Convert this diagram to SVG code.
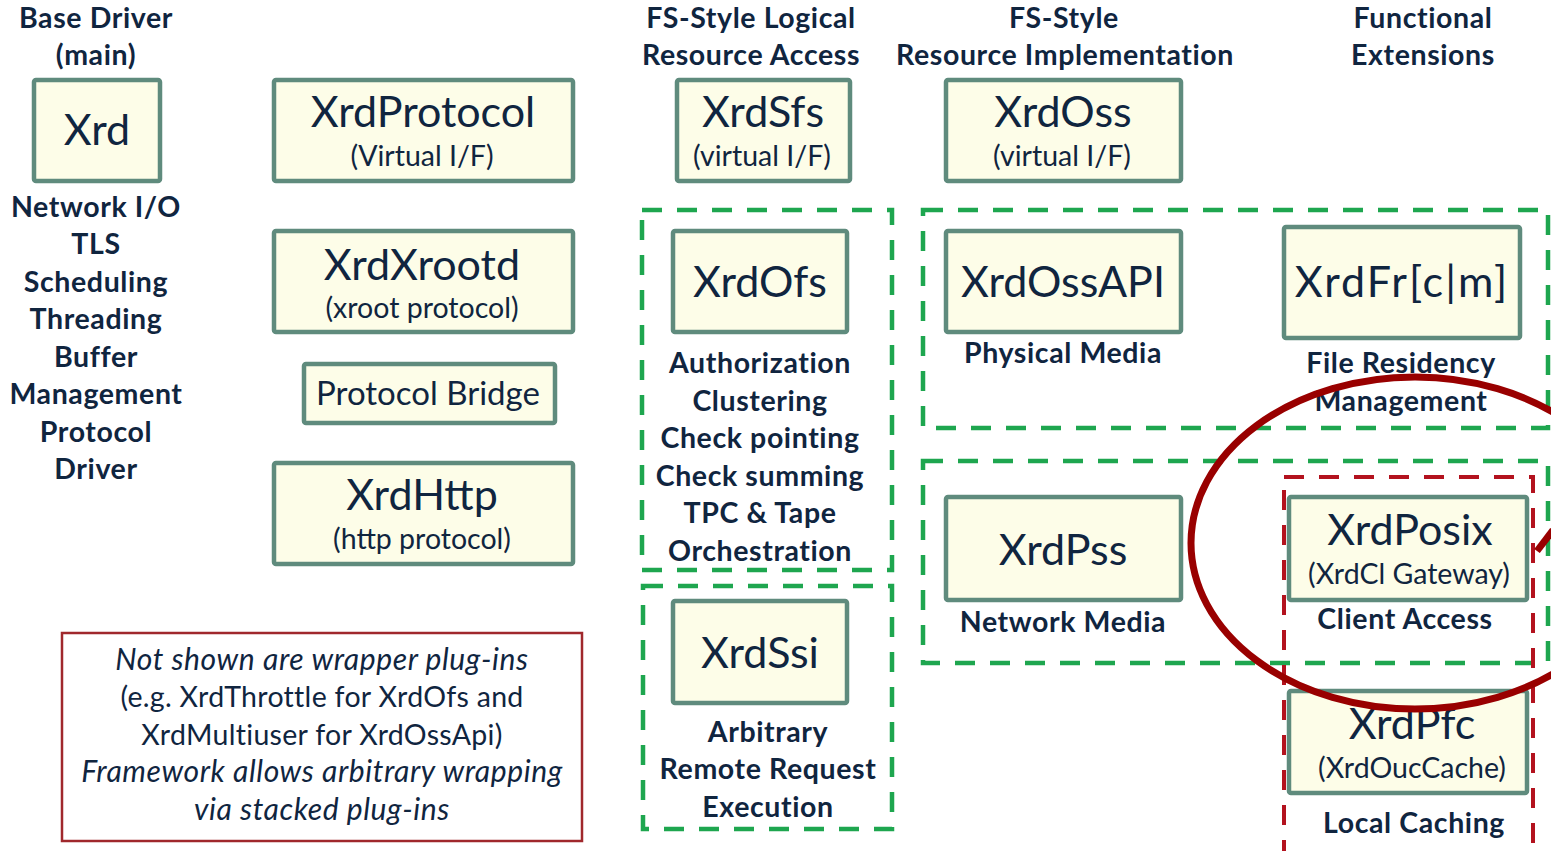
<svg xmlns="http://www.w3.org/2000/svg" width="1551" height="851" viewBox="0 0 1551 851">
<style>
.box{fill:#fdfde8;stroke:#5f8b7d;stroke-width:4.5}
.grp{fill:none;stroke:#1ea64f;stroke-width:4.5;stroke-dasharray:20 15}
.rgrp{fill:none;stroke:#b3121e;stroke-width:4;stroke-dasharray:20 15}
text{font-family:Lato,"Liberation Sans",sans-serif;fill:#10253f;text-anchor:middle}
.ti{font-size:43px}
.sub{font-size:28.5px}
.lbl{font-size:28.5px;font-weight:bold;letter-spacing:0.6px}
.note{font-size:28.5px;letter-spacing:0.3px}
.it{font-style:italic;font-size:30px;letter-spacing:0.6px}
</style>
<rect width="1551" height="851" fill="#ffffff"/>

<g id="headers">
<text class="lbl" x="96" y="28">Base Driver</text>
<text class="lbl" x="96" y="65">(main)</text>
<text class="lbl" x="751" y="28">FS-Style Logical</text>
<text class="lbl" x="751" y="65">Resource Access</text>
<text class="lbl" x="1064" y="28">FS-Style</text>
<text class="lbl" x="1065" y="65">Resource Implementation</text>
<text class="lbl" x="1423" y="28">Functional</text>
<text class="lbl" x="1423" y="65">Extensions</text>
</g>

<g id="groups">
<rect class="grp" x="642" y="210" width="250" height="360"/>
<rect class="grp" x="643" y="586" width="249" height="243"/>
<rect class="grp" x="923" y="210" width="625" height="218"/>
<rect class="grp" x="923" y="461" width="625" height="202"/>
<rect class="rgrp" x="1284" y="477" width="249" height="380"/>
</g>

<g id="node-xrd">
<rect class="box" x="34" y="80" width="126" height="101" rx="2"/>
<text class="ti" x="97" y="145">Xrd</text>
<text class="lbl" x="96" y="217">Network I/O</text>
<text class="lbl" x="96" y="254">TLS</text>
<text class="lbl" x="96" y="292">Scheduling</text>
<text class="lbl" x="96" y="329">Threading</text>
<text class="lbl" x="96" y="367">Buffer</text>
<text class="lbl" x="96" y="404">Management</text>
<text class="lbl" x="96" y="442">Protocol</text>
<text class="lbl" x="96" y="479">Driver</text>
</g>

<g id="node-xrdprotocol">
<rect class="box" x="274" y="80" width="299" height="101" rx="2"/>
<text class="ti" x="423" y="127">XrdProtocol</text>
<text class="sub" x="422" y="166">(Virtual I/F)</text>
</g>

<g id="node-xrdxrootd">
<rect class="box" x="274" y="231" width="299" height="101" rx="2"/>
<text class="ti" x="422" y="280">XrdXrootd</text>
<text class="sub" x="422" y="318">(xroot protocol)</text>
</g>

<g id="node-bridge">
<rect class="box" x="304" y="364" width="251" height="59" rx="2"/>
<text class="ti" x="428" y="405" style="font-size:33px">Protocol Bridge</text>
</g>

<g id="node-xrdhttp">
<rect class="box" x="274" y="463" width="299" height="101" rx="2"/>
<text class="ti" x="422" y="510">XrdHttp</text>
<text class="sub" x="422" y="549">(http protocol)</text>
</g>

<g id="node-xrdsfs">
<rect class="box" x="677" y="80" width="173" height="101" rx="2"/>
<text class="ti" x="763" y="127">XrdSfs</text>
<text class="sub" x="762" y="166">(virtual I/F)</text>
</g>

<g id="node-xrdoss">
<rect class="box" x="946" y="80" width="235" height="101" rx="2"/>
<text class="ti" x="1063" y="127">XrdOss</text>
<text class="sub" x="1062" y="166">(virtual I/F)</text>
</g>

<g id="node-xrdofs">
<rect class="box" x="673" y="231" width="174" height="101" rx="2"/>
<text class="ti" x="760" y="297">XrdOfs</text>
<text class="lbl" x="760" y="373">Authorization</text>
<text class="lbl" x="760" y="411">Clustering</text>
<text class="lbl" x="760" y="448">Check pointing</text>
<text class="lbl" x="760" y="486">Check summing</text>
<text class="lbl" x="760" y="523">TPC &amp; Tape</text>
<text class="lbl" x="760" y="561">Orchestration</text>
</g>

<g id="node-xrdssi">
<rect class="box" x="673" y="601" width="174" height="102" rx="2"/>
<text class="ti" x="760" y="668">XrdSsi</text>
<text class="lbl" x="768" y="742">Arbitrary</text>
<text class="lbl" x="768" y="779">Remote Request</text>
<text class="lbl" x="768" y="817">Execution</text>
</g>

<g id="node-xrdossapi">
<rect class="box" x="946" y="231" width="235" height="101" rx="2"/>
<text class="ti" x="1063" y="297">XrdOssAPI</text>
<text class="lbl" x="1063" y="363">Physical Media</text>
</g>

<g id="node-xrdfr">
<rect class="box" x="1284" y="227" width="236" height="111" rx="2"/>
<text class="ti" x="1402" y="297" style="letter-spacing:2px">XrdFr[c|m]</text>
<text class="lbl" x="1401" y="373">File Residency</text>
<text class="lbl" x="1401" y="411">Management</text>
</g>

<g id="node-xrdpss">
<rect class="box" x="946" y="497" width="235" height="103" rx="2"/>
<text class="ti" x="1063" y="565">XrdPss</text>
<text class="lbl" x="1063" y="632">Network Media</text>
</g>

<g id="node-xrdposix">
<rect class="box" x="1289" y="497" width="238" height="103" rx="2"/>
<text class="ti" x="1410" y="545">XrdPosix</text>
<text class="sub" x="1409" y="584">(XrdCl Gateway)</text>
<text class="lbl" x="1405" y="629">Client Access</text>
</g>

<g id="node-xrdpfc">
<rect class="box" x="1289" y="691" width="238" height="102" rx="2"/>
<text class="ti" x="1412" y="739">XrdPfc</text>
<text class="sub" x="1412" y="778">(XrdOucCache)</text>
<text class="lbl" x="1414" y="833">Local Caching</text>
</g>

<g id="note">
<rect x="62" y="633" width="520" height="208" fill="none" stroke="#a0282c" stroke-width="2.5"/>
<text class="note it" x="322" y="670">Not shown are wrapper plug-ins</text>
<text class="note" x="322" y="707">(e.g. XrdThrottle for XrdOfs and</text>
<text class="note" x="322" y="745">XrdMultiuser for XrdOssApi)</text>
<text class="note it" x="322" y="782">Framework allows arbitrary wrapping</text>
<text class="note it" x="322" y="820">via stacked plug-ins</text>
</g>

<g id="connectors"></g>

<g id="highlight">
<ellipse cx="1415" cy="543" rx="224" ry="166" fill="none" stroke="#990000" stroke-width="7"/>
<line x1="1537" y1="551" x2="1553" y2="530" stroke="#990000" stroke-width="7"/>
</g>
</svg>
